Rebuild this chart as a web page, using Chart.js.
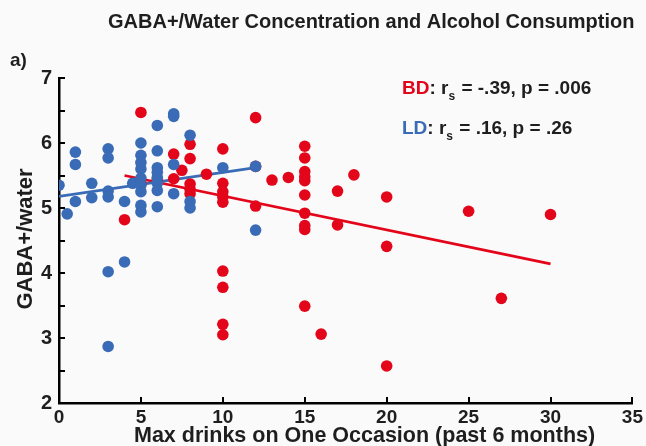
<!DOCTYPE html>
<html>
<head>
<meta charset="utf-8">
<script src="https://cdn.jsdelivr.net/npm/chart.js@4"></script>
<style>
  html, body { margin: 0; padding: 0; background: #fafafa; }
  #wrap { width: 646px; height: 446px; }
</style>
</head>
<body>
<div id="wrap"><canvas id="chart" width="646" height="446"></canvas></div>
<script>
// max drinks (x) and GABA+/water (y)
const bdX = [4, 5, 5, 6, 7, 7, 7.5, 8, 8, 8, 8, 8, 9,
  10, 10, 10, 10, 10, 10, 10, 10, 10, 12, 12, 12, 13, 14,
  15, 15, 15, 15, 15, 15, 15, 15, 15, 15, 16, 17, 17, 18, 20, 20, 20, 25, 27, 30];
const bdY = [4.82, 6.47, 5.38, 5.44, 5.83, 5.45, 5.58, 5.98, 5.76, 5.37, 5.29, 5.22, 5.52,
  5.91, 5.38, 5.25, 5.17, 5.09, 4.03, 3.78, 3.21, 3.05, 6.39, 5.64, 5.03, 5.43, 5.47,
  5.95, 5.77, 5.56, 5.48, 5.42, 5.20, 4.92, 4.73, 4.67, 3.49, 3.06, 5.26, 4.74, 5.51, 5.17, 4.41, 2.57, 4.95, 3.61, 4.90];

const ldX = [0, 0.5, 1, 1, 1, 2, 2, 3, 3, 3, 3, 3, 3, 4, 4, 4.5,
  5, 5, 5, 5, 5, 5, 5, 5, 5, 6, 6, 6, 6, 6, 6, 6, 6,
  7, 7, 7, 7, 8, 8, 8, 10, 12, 12];
const ldY = [5.35, 4.91, 5.86, 5.67, 5.10, 5.38, 5.16, 5.91, 5.77, 5.26, 5.17, 4.02, 2.87, 5.10, 4.17, 5.38,
  6.00, 5.81, 5.70, 5.60, 5.46, 5.35, 5.25, 5.04, 4.94, 6.27, 5.88, 5.62, 5.55, 5.47, 5.38, 5.27, 5.02,
  6.45, 6.41, 5.67, 5.22, 6.12, 5.10, 5.00, 5.62, 5.64, 4.66];

// fit lines (end points)
const bdFitX = [4, 30];
const bdFitY = [5.50, 4.14];
const ldFitX = [0, 12];
const ldFitY = [5.18, 5.62];

const xTicks = [0, 5, 10, 15, 20, 25, 30, 35];
const yTicks = [2, 2.5, 3, 3.5, 4, 4.5, 5, 5.5, 6, 6.5, 7];

const RED = '#e3061b';
const BLUE = '#3a6bb6';
const FONT = '"Liberation Sans", Arial, sans-serif';

const toPts = (xs, ys) => xs.map((x, i) => ({x: x, y: ys[i]}));

const textPlugin = {
  id: 'texts',
  afterDraw(chart) {
    const ctx = chart.ctx;
    const xs = chart.scales.x, ys = chart.scales.y;
    ctx.save();
    // inward ticks
    ctx.strokeStyle = '#000';
    ctx.lineWidth = 2;
    yTicks.forEach(v => {
      const py = Math.round(ys.getPixelForValue(v));
      ctx.beginPath(); ctx.moveTo(xs.left, py); ctx.lineTo(xs.left + 6, py); ctx.stroke();
    });
    xTicks.forEach(v => {
      const px = Math.round(xs.getPixelForValue(v));
      ctx.beginPath(); ctx.moveTo(px, ys.bottom); ctx.lineTo(px, ys.bottom - 6); ctx.stroke();
    });

    ctx.fillStyle = '#1e1e1e';
    ctx.textBaseline = 'alphabetic';
    ctx.font = 'bold 20px ' + FONT;
    ctx.textAlign = 'left';
    ctx.fillText('GABA+/Water Concentration and Alcohol Consumption', 108, 28);
    ctx.font = 'bold 19px ' + FONT;
    ctx.fillText('a)', 10, 66);

    ctx.font = 'bold 21.5px ' + FONT;
    ctx.fillText('Max drinks on One Occasion (past 6 months)', 134, 442);

    ctx.save();
    ctx.translate(32, 239);
    ctx.rotate(-Math.PI / 2);
    ctx.textAlign = 'center';
    ctx.font = 'bold 22px ' + FONT;
    ctx.fillText('GABA+/water', 0, 0);
    ctx.restore();

    // stats
    const stat = (label, color, rest, px, py) => {
      ctx.font = 'bold 19px ' + FONT;
      ctx.fillStyle = color;
      ctx.fillText(label, px, py);
      let x = px + ctx.measureText(label).width;
      ctx.fillStyle = '#1e1e1e';
      ctx.fillText(': r', x, py);
      x += ctx.measureText(': r').width;
      ctx.font = 'bold 12px ' + FONT;
      ctx.fillText('s', x, py + 6);
      x += ctx.measureText('s').width + 1;
      ctx.font = 'bold 19px ' + FONT;
      ctx.fillText(rest, x, py);
    };
    stat('BD', RED, ' = -.39, p = .006', 402, 94);
    stat('LD', BLUE, ' = .16, p = .26', 402, 134);
    ctx.restore();
  }
};

new Chart(document.getElementById('chart'), {
  type: 'scatter',
  data: {
    datasets: [
      {data: toPts(ldX, ldY), backgroundColor: BLUE, borderColor: BLUE, pointRadius: 5.8, pointBorderWidth: 0},
      {data: toPts(bdX, bdY), backgroundColor: RED, borderColor: RED, pointRadius: 5.8, pointBorderWidth: 0},
      {data: toPts(ldFitX, ldFitY), showLine: true, borderColor: BLUE, borderWidth: 2.8, pointRadius: 0},
      {data: toPts(bdFitX, bdFitY), showLine: true, borderColor: RED, borderWidth: 2.8, pointRadius: 0}
    ]
  },
  plugins: [textPlugin],
  options: {
    responsive: false,
    animation: false,
    events: [],
    layout: {padding: {top: 78, right: 6, left: 0, bottom: 0}},
    plugins: {legend: {display: false}, tooltip: {enabled: false}},
    scales: {
      x: {
        min: 0, max: 35,
        afterFit: s => { s.height = 43; },
        grid: {display: true, drawOnChartArea: false, drawTicks: false},
        border: {display: true, color: '#000', width: 2.5},
        afterBuildTicks: s => { s.ticks = xTicks.map(v => ({value: v})); },
        ticks: {color: '#1e1e1e', padding: 3, maxRotation: 0, font: {family: FONT, size: 19, weight: 'bold'}}
      },
      y: {
        min: 2, max: 7,
        afterFit: s => { s.width = 59; },
        grid: {display: true, drawOnChartArea: false, drawTicks: false},
        border: {display: true, color: '#000', width: 2.5},
        afterBuildTicks: s => { s.ticks = yTicks.map(v => ({value: v})); },
        ticks: {
          color: '#1e1e1e', padding: 7,
          font: {family: FONT, size: 20, weight: 'bold'},
          callback: v => (Number.isInteger(v) ? String(v) : '')
        }
      }
    }
  }
});
</script>
</body>
</html>
